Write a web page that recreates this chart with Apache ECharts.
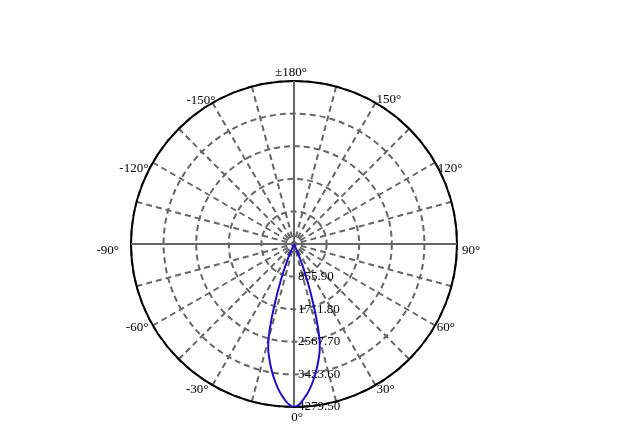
<!DOCTYPE html>
<html>
<head>
<meta charset="utf-8">
<script src="https://cdn.jsdelivr.net/npm/echarts@6/dist/echarts.min.js"></script>
<style>
  html, body { margin: 0; padding: 0; background: #fff; }
  #chart { width: 628px; height: 440px; }
</style>
</head>
<body>
<div id="chart"></div>
<script>
// luminous intensity distribution, angle in degrees (0 = straight down)
const angles = [-26, -24, -22, -20, -18, -16, -14, -12, -10, -8, -6, -4, -2, 0,
                2, 4, 6, 8, 10, 12, 14, 16, 18, 20, 22, 24, 26];
const intensity = [0, 80, 480, 1000, 1600, 2280, 2800, 3100, 3370, 3620, 3850, 4040, 4200, 4279.5,
                   4200, 4040, 3850, 3620, 3370, 3100, 2800, 2280, 1600, 1000, 480, 80, 0];
const radiusMax = 4279.5;
const radiusStep = 855.9;
const angleLabelStep = 30;

const gray = '#666';
const serif = 'Liberation Serif';

// nudges so the angle labels sit where the original plot put them
const labelPad = {
    0: [30, 0, 0, 6], 30: [20, 0, 0, 14], 60: [9, 0, 0, 24], 90: [14, 0, 0, 31],
    120: [0, 0, 0, 25], 150: [0, 0, 19, 14], 180: [0, 6, 28, 0], 210: [0, 10, 18, 0],
    240: [0, 27, 0, 0], 270: [14, 38, 0, 0], 300: [9, 27, 0, 0], 330: [20, 17, 0, 0]
};
const rich = {};
Object.keys(labelPad).forEach(k => {
    rich['a' + k] = { fontFamily: serif, fontSize: 13, color: '#000', padding: labelPad[k] };
});

const myChart = echarts.init(document.getElementById('chart'));

const curve = angles.map((a, i) => [intensity[i], a < 0 ? a + 360 : a]);

myChart.setOption({
    backgroundColor: '#fff',
    animation: false,
    polar: [
        { center: [294, 244], radius: 163 },
        { center: [294, 244], radius: 163 }
    ],
    angleAxis: [{
        polarIndex: 0,
        type: 'value',
        min: 0,
        max: 360,
        interval: 15,
        startAngle: 270,
        clockwise: false,
        axisLine: { lineStyle: { color: '#000', width: 2 } },
        axisTick: { show: false },
        axisLabel: {
            margin: -26,
            color: '#000',
            fontFamily: serif,
            fontSize: 13,
            rich: rich,
            formatter: v => {
                if (v % angleLabelStep !== 0 || v === 360) return '';
                const txt = v === 180 ? '±180°' : (v > 180 ? v - 360 : v) + '°';
                return '{a' + v + '|' + txt + '}';
            }
        },
        splitLine: { lineStyle: { color: gray, width: 2, type: [6, 4] } }
    }, {
        polarIndex: 1,
        type: 'value',
        min: 0,
        max: 360,
        interval: 90,
        startAngle: 270,
        clockwise: false,
        z: 5,
        axisLine: { show: false },
        axisTick: { show: false },
        axisLabel: { show: false },
        splitLine: { lineStyle: { color: gray, width: 2, type: 'solid' } }
    }],
    radiusAxis: [{
        polarIndex: 0,
        type: 'value',
        min: 0,
        max: radiusMax,
        interval: radiusStep,
        axisLine: { lineStyle: { color: gray, width: 2 } },
        axisTick: { show: false },
        axisLabel: {
            color: '#000',
            fontFamily: serif,
            fontSize: 13,
            margin: 4,
            formatter: v => v === 0 ? '' : v.toFixed(2)
        },
        splitLine: { lineStyle: { color: gray, width: 2, type: [6, 4] } }
    }, {
        polarIndex: 1,
        type: 'value',
        min: 0,
        max: radiusMax,
        axisLine: { show: false },
        axisTick: { show: false },
        axisLabel: { show: false },
        splitLine: { show: false }
    }],
    series: [{
        type: 'line',
        coordinateSystem: 'polar',
        polarIndex: 0,
        data: curve,
        showSymbol: false,
        smooth: true,
        z: 10,
        lineStyle: { color: '#1f0fc4', width: 2 }
    }]
});
</script>
</body>
</html>
